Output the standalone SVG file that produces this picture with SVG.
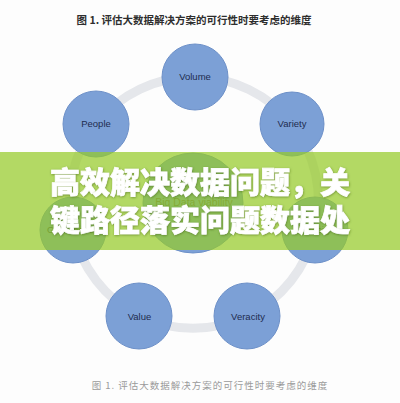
<svg xmlns="http://www.w3.org/2000/svg" width="400" height="403" viewBox="0 0 400 403">
  <defs>
    <style>
      .node { fill: #7ca0d6; stroke: #6d90c8; stroke-width: 1; }
      .lbl { font-family: "Liberation Sans", Arial, sans-serif; font-size: 9.5px; fill: #1e2c4f; text-anchor: middle; }
      .ring { fill: none; stroke: #e5e7eb; stroke-width: 9; }
      .banner-text { font-family: "Noto Sans CJK SC", "Noto Sans", sans-serif; font-size: 30px; font-weight: 900; fill: #ffffff; stroke: #ffffff; stroke-width: 0.7; text-anchor: middle; }
    </style>
    <filter id="sh" x="-10%" y="-30%" width="120%" height="160%">
      <feDropShadow dx="0.5" dy="0.8" stdDeviation="0.8" flood-color="#3a5a10" flood-opacity="0.55"/>
    </filter>
  </defs>
  <rect width="400" height="403" fill="#fdfdfd"/>

  <text x="194" y="24" font-family="Noto Sans CJK SC, Liberation Sans, sans-serif" font-size="10.5" font-weight="bold" fill="#2e2e2e" text-anchor="middle">图 1. 评估大数据解决方案的可行性时要考虑的维度</text>

  <g id="connectors">
    <path class="ring" d="M195 77 A125 125 0 0 1 292 124"/>
    <path class="ring" d="M292 124 A125 125 0 0 1 315 230"/>
    <path class="ring" d="M315 230 A125 125 0 0 1 247 316"/>
    <path class="ring" d="M247 316 A125 125 0 0 1 139 316"/>
    <path class="ring" d="M139 316 A125 125 0 0 1 73 230"/>
    <path class="ring" d="M73 230 A125 125 0 0 1 96 124"/>
    <path class="ring" d="M96 124 A125 125 0 0 1 195 77"/>
  </g>

  <g id="center">
    <circle class="node" cx="193" cy="203" r="50"/>
    <text class="lbl" x="194" y="206" style="fill:#5a5a5a;font-size:10.5px">Big Data viability</text>
  </g>
  <g id="volume">
    <circle class="node" cx="195" cy="77" r="33"/>
    <text class="lbl" x="195" y="80">Volume</text>
  </g>
  <g id="variety">
    <circle class="node" cx="292" cy="124" r="32"/>
    <text class="lbl" x="292" y="127">Variety</text>
  </g>
  <g id="velocity">
    <circle class="node" cx="315" cy="230" r="33"/>
    <text class="lbl" x="315" y="233">Velocity</text>
  </g>
  <g id="veracity">
    <circle class="node" cx="247" cy="316" r="33"/>
    <text class="lbl" x="248" y="320">Veracity</text>
  </g>
  <g id="value">
    <circle class="node" cx="139" cy="316" r="33"/>
    <text class="lbl" x="139.5" y="320">Value</text>
  </g>
  <g id="governance">
    <circle class="node" cx="73" cy="230" r="33"/>
    <text class="lbl" x="73" y="233">Governance</text>
  </g>
  <g id="people">
    <circle class="node" cx="96" cy="124" r="33"/>
    <text class="lbl" x="96" y="127">People</text>
  </g>

  <text x="210" y="389" font-family="Noto Sans CJK SC, Liberation Sans, sans-serif" font-size="9.5" letter-spacing="1" fill="#9a9a9a" text-anchor="middle">图 1. 评估大数据解决方案的可行性时要考虑的维度</text>

  <g id="banner">
    <rect x="0" y="152" width="400" height="98" fill="#95cb28" fill-opacity="0.72"/>
    <text class="banner-text" x="200" y="193" filter="url(#sh)">高效解决数据问题，关</text>
    <text class="banner-text" x="200" y="231" filter="url(#sh)">键路径落实问题数据处</text>
  </g>
</svg>
